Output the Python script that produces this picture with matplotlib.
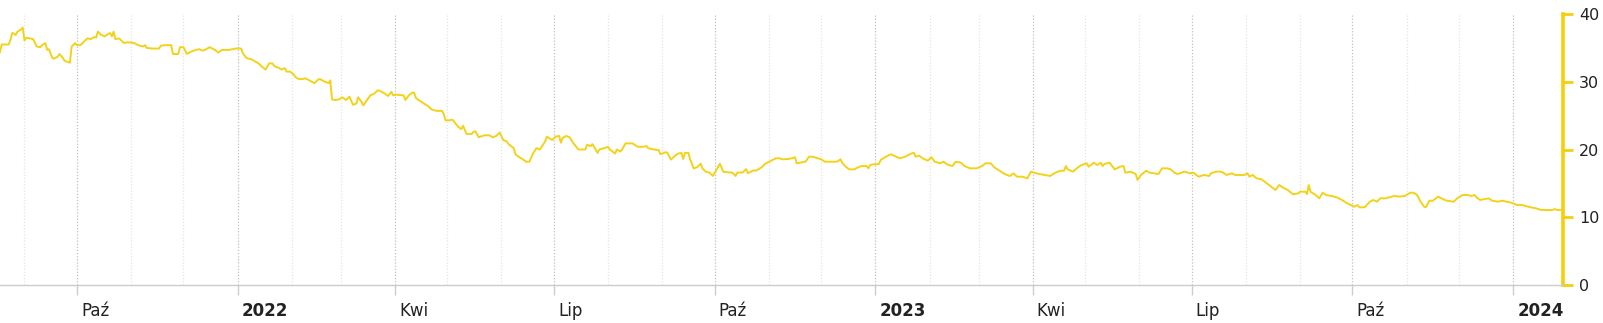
import pandas as pd
import matplotlib
matplotlib.use("Agg")
import matplotlib.pyplot as plt
import matplotlib.dates as mdates
from matplotlib.transforms import ScaledTranslation

# series
dates = [
    "2021-08-18", "2021-08-19", "2021-08-23", "2021-08-24", "2021-08-25", "2021-08-26", "2021-08-27",
    "2021-08-28", "2021-08-30", "2021-08-31",
    "2021-09-01", "2021-09-02", "2021-09-04", "2021-09-06", "2021-09-08", "2021-09-10", "2021-09-11",
    "2021-09-13", "2021-09-14", "2021-09-15", "2021-09-17", "2021-09-18", "2021-09-20", "2021-09-21",
    "2021-09-23", "2021-09-24", "2021-09-27", "2021-09-28", "2021-09-30",
    "2021-10-01", "2021-10-03", "2021-10-05", "2021-10-07", "2021-10-09", "2021-10-11", "2021-10-12",
    "2021-10-13", "2021-10-15", "2021-10-17", "2021-10-18", "2021-10-20", "2021-10-21", "2021-10-22",
    "2021-10-23", "2021-10-25", "2021-10-26", "2021-10-28", "2021-10-29",
    "2021-11-01", "2021-11-03", "2021-11-05", "2021-11-08", "2021-11-09", "2021-11-10", "2021-11-13",
    "2021-11-17", "2021-11-18", "2021-11-20", "2021-11-24", "2021-11-25", "2021-11-28", "2021-11-29",
    "2021-12-01", "2021-12-03", "2021-12-05", "2021-12-08", "2021-12-10", "2021-12-12", "2021-12-14",
    "2021-12-16", "2021-12-19", "2021-12-21", "2021-12-23", "2021-12-27", "2021-12-31",
    "2022-01-03", "2022-01-04", "2022-01-06", "2022-01-09", "2022-01-11", "2022-01-13", "2022-01-15",
    "2022-01-17", "2022-01-19", "2022-01-21", "2022-01-22", "2022-01-25", "2022-01-26", "2022-01-28",
    "2022-01-29", "2022-01-31",
    "2022-02-02", "2022-02-03", "2022-02-05", "2022-02-07", "2022-02-09", "2022-02-11", "2022-02-14",
    "2022-02-16", "2022-02-17", "2022-02-20", "2022-02-22", "2022-02-23", "2022-02-24", "2022-02-26",
    "2022-02-28",
    "2022-03-02", "2022-03-04", "2022-03-06", "2022-03-08", "2022-03-10", "2022-03-11", "2022-03-13",
    "2022-03-14", "2022-03-16", "2022-03-18", "2022-03-20", "2022-03-22", "2022-03-23", "2022-03-26",
    "2022-03-28", "2022-03-30", "2022-03-31",
    "2022-04-02", "2022-04-05", "2022-04-06", "2022-04-07", "2022-04-09", "2022-04-11", "2022-04-12",
    "2022-04-13", "2022-04-14", "2022-04-17", "2022-04-20", "2022-04-22", "2022-04-25", "2022-04-28",
    "2022-04-29", "2022-04-30",
    "2022-05-02", "2022-05-04", "2022-05-07", "2022-05-09", "2022-05-10", "2022-05-12", "2022-05-15",
    "2022-05-16", "2022-05-17", "2022-05-19", "2022-05-21", "2022-05-23", "2022-05-25", "2022-05-27",
    "2022-05-29", "2022-05-31",
    "2022-06-02", "2022-06-04", "2022-06-05", "2022-06-08", "2022-06-09", "2022-06-11", "2022-06-13",
    "2022-06-15", "2022-06-17", "2022-06-19", "2022-06-21", "2022-06-23", "2022-06-26", "2022-06-27",
    "2022-06-30",
    "2022-07-02", "2022-07-04", "2022-07-05", "2022-07-06", "2022-07-08", "2022-07-10", "2022-07-12",
    "2022-07-15", "2022-07-19", "2022-07-20", "2022-07-22", "2022-07-23", "2022-07-24", "2022-07-26",
    "2022-07-27", "2022-07-30",
    "2022-08-01", "2022-08-02", "2022-08-05", "2022-08-06", "2022-08-08", "2022-08-09", "2022-08-11",
    "2022-08-13", "2022-08-15", "2022-08-18", "2022-08-21", "2022-08-23", "2022-08-24", "2022-08-27",
    "2022-08-30", "2022-08-31",
    "2022-09-03", "2022-09-04", "2022-09-06", "2022-09-08", "2022-09-10", "2022-09-12", "2022-09-13",
    "2022-09-14", "2022-09-16", "2022-09-17", "2022-09-19", "2022-09-21", "2022-09-23", "2022-09-24",
    "2022-09-26", "2022-09-28", "2022-09-30",
    "2022-10-02", "2022-10-04", "2022-10-06", "2022-10-10", "2022-10-11", "2022-10-13", "2022-10-14",
    "2022-10-17", "2022-10-19", "2022-10-20", "2022-10-23", "2022-10-25", "2022-10-28", "2022-10-30",
    "2022-11-02", "2022-11-05", "2022-11-07", "2022-11-09", "2022-11-12", "2022-11-14", "2022-11-16",
    "2022-11-17", "2022-11-19", "2022-11-22", "2022-11-24", "2022-11-26", "2022-11-29",
    "2022-12-01", "2022-12-03", "2022-12-07", "2022-12-10", "2022-12-12", "2022-12-13", "2022-12-15",
    "2022-12-17", "2022-12-20", "2022-12-22", "2022-12-24", "2022-12-27", "2022-12-28", "2022-12-29",
    "2022-12-31",
    "2023-01-03", "2023-01-04", "2023-01-07", "2023-01-10", "2023-01-12", "2023-01-15", "2023-01-18",
    "2023-01-21", "2023-01-23", "2023-01-24", "2023-01-26", "2023-01-28", "2023-01-31",
    "2023-02-02", "2023-02-04", "2023-02-07", "2023-02-09", "2023-02-11", "2023-02-14", "2023-02-16",
    "2023-02-19", "2023-02-21", "2023-02-24", "2023-02-28",
    "2023-03-03", "2023-03-05", "2023-03-08", "2023-03-10", "2023-03-13", "2023-03-16", "2023-03-19",
    "2023-03-21", "2023-03-23", "2023-03-26", "2023-03-29", "2023-03-31",
    "2023-04-03", "2023-04-05", "2023-04-08", "2023-04-11", "2023-04-14", "2023-04-17", "2023-04-19",
    "2023-04-20", "2023-04-21", "2023-04-24", "2023-04-27", "2023-04-29",
    "2023-05-02", "2023-05-03", "2023-05-06", "2023-05-08", "2023-05-10", "2023-05-11", "2023-05-12",
    "2023-05-15", "2023-05-16", "2023-05-18", "2023-05-21", "2023-05-23", "2023-05-24", "2023-05-27",
    "2023-05-30", "2023-05-31",
    "2023-06-02", "2023-06-05", "2023-06-07", "2023-06-12", "2023-06-14", "2023-06-17", "2023-06-19",
    "2023-06-21", "2023-06-23", "2023-06-25", "2023-06-27", "2023-06-30",
    "2023-07-02", "2023-07-05", "2023-07-08", "2023-07-11", "2023-07-12", "2023-07-15", "2023-07-18",
    "2023-07-21", "2023-07-24", "2023-07-26", "2023-07-31",
    "2023-08-02", "2023-08-03", "2023-08-05", "2023-08-07", "2023-08-10", "2023-08-13", "2023-08-16",
    "2023-08-18", "2023-08-20", "2023-08-23", "2023-08-25", "2023-08-28", "2023-08-31",
    "2023-09-01", "2023-09-04", "2023-09-05", "2023-09-06", "2023-09-07", "2023-09-10", "2023-09-12",
    "2023-09-14", "2023-09-16", "2023-09-19", "2023-09-22", "2023-09-25", "2023-09-28", "2023-09-30",
    "2023-10-02", "2023-10-04", "2023-10-05", "2023-10-08", "2023-10-11", "2023-10-13", "2023-10-15",
    "2023-10-17", "2023-10-20", "2023-10-22", "2023-10-25", "2023-10-28", "2023-10-31",
    "2023-11-03", "2023-11-05", "2023-11-07", "2023-11-09", "2023-11-11", "2023-11-12", "2023-11-14",
    "2023-11-16", "2023-11-19", "2023-11-22", "2023-11-24", "2023-11-28", "2023-11-30",
    "2023-12-03", "2023-12-06", "2023-12-08", "2023-12-10", "2023-12-11", "2023-12-13", "2023-12-15",
    "2023-12-18", "2023-12-20", "2023-12-23", "2023-12-26", "2023-12-28", "2023-12-31",
    "2024-01-03", "2024-01-06", "2024-01-08", "2024-01-11", "2024-01-14", "2024-01-17", "2024-01-20",
    "2024-01-23", "2024-01-25", "2024-01-26", "2024-01-28",
]
values = [
    34.4, 35.5, 35.5, 36.2, 37.2, 37.1, 36.9,
    37.4, 37.7, 38.0,
    36.1, 36.5, 36.4, 36.3, 35.2, 35.1, 35.4,
    35.7, 34.7, 34.8, 33.5, 33.4, 33.7, 34.1,
    33.5, 33.1, 32.8, 35.2, 35.7,
    35.4, 35.4, 35.9, 36.4, 36.3, 36.6, 36.5,
    37.4, 36.9, 36.7, 36.9, 37.2, 36.7, 37.4,
    36.3, 36.4, 36.2, 35.7, 35.8,
    35.8, 35.7, 35.4, 35.2, 35.4, 35.0, 34.9,
    34.9, 35.3, 35.4, 35.4, 34.1, 34.1, 35.1,
    35.1, 34.1, 34.4, 34.7, 34.8, 34.6, 34.8,
    35.1, 34.7, 34.3, 34.7, 34.7, 34.9,
    34.9, 34.2, 33.5, 33.3, 33.0, 32.7, 32.2,
    31.8, 32.7, 32.7, 32.3, 32.0, 31.8, 32.0,
    31.5, 31.5,
    31.1, 30.7, 30.4, 30.4, 30.5, 30.2, 29.8,
    30.3, 30.4, 30.0, 29.8, 30.2, 27.4, 27.3,
    27.4,
    27.7, 27.3, 27.8, 26.6, 26.8, 27.7, 27.0,
    26.5, 27.3, 28.0, 28.2, 28.7, 28.7, 28.3,
    27.9, 28.5, 28.0,
    28.1, 28.0, 28.0, 27.3, 28.0, 28.4, 28.4,
    27.6, 27.4, 26.9, 26.4, 25.9, 25.7, 25.7,
    25.2, 24.3,
    24.3, 24.4, 23.4, 23.0, 23.5, 22.3, 22.3,
    22.6, 22.7, 21.8, 22.0, 22.1, 22.1, 21.8,
    22.0, 22.5,
    21.4, 21.2, 20.8, 20.2, 19.3, 18.9, 18.6,
    18.2, 18.2, 19.4, 20.2, 20.0, 21.2, 21.9,
    21.4,
    21.9, 22.0, 21.0, 21.7, 22.0, 21.8, 21.0,
    20.0, 20.0, 20.7, 20.5, 20.8, 20.4, 19.5,
    20.0, 20.2,
    20.4, 20.0, 19.4, 20.0, 19.7, 20.0, 20.9,
    20.9, 20.9, 20.4, 20.4, 20.5, 20.2, 20.0,
    19.9, 19.3,
    19.6, 19.5, 18.5, 19.0, 19.4, 19.5, 18.6,
    19.5, 19.5, 18.5, 17.2, 17.4, 17.9, 17.2,
    16.7, 16.6, 16.1,
    17.0, 17.9, 16.7, 16.6, 16.6, 16.1, 16.6,
    16.6, 17.1, 16.5, 16.9, 16.9, 17.4, 17.9,
    18.3, 18.7, 18.7, 18.55, 18.6, 18.7, 18.85,
    17.96, 18.05, 18.2, 18.94, 18.94, 18.7,
    18.55, 18.2, 18.2, 18.2, 18.55, 18.05, 17.46,
    17.07, 17.07, 17.37, 17.56, 17.56, 17.22, 17.71,
    17.81,
    17.86, 18.45, 18.94, 19.29, 19.04, 18.7, 18.94,
    19.34, 19.53, 18.94, 19.1, 18.7, 18.35,
    18.85, 18.2, 17.96, 18.2, 17.8, 17.56, 18.2,
    18.05, 17.56, 17.22, 17.22,
    17.56, 17.96, 17.96, 17.37, 16.87, 16.38, 16.09,
    16.48, 15.99, 15.99, 15.75, 16.73,
    16.48, 16.38, 16.24, 16.09, 16.58, 16.87, 16.87,
    17.56, 17.07, 16.73, 17.37, 17.71,
    17.96, 17.46, 18.05, 17.71, 18.05, 17.56, 17.86,
    18.05, 17.71, 17.07, 17.46, 17.56, 16.58, 16.73,
    16.38, 15.5,
    16.24, 16.87, 16.58, 16.38, 17.22, 17.22, 17.07,
    16.58, 16.38, 16.58, 16.73, 16.48,
    16.58, 15.99, 16.24, 16.09, 16.48, 16.73, 16.73,
    16.24, 16.48, 16.24, 16.24,
    16.48, 15.99, 16.24, 15.75, 15.6, 15.01, 14.42,
    14.02, 14.76, 14.27, 14.02, 13.38, 13.53,
    13.77, 13.77, 13.43, 14.76, 13.77, 13.28, 12.79,
    13.62, 13.28, 13.14, 12.94, 12.55, 12.06, 11.81,
    11.56, 11.81, 11.47, 11.47, 12.3, 12.55, 12.3,
    12.79, 12.79, 12.94, 13.14, 13.04, 13.14,
    13.62, 13.62, 13.28, 12.3, 11.56, 11.47, 12.44,
    12.44, 13.04, 12.65, 12.44, 12.3, 12.79,
    13.28, 13.28, 13.14, 13.28, 12.94, 12.55, 12.65,
    12.79, 12.44, 12.3, 12.44, 12.3, 12.15,
    11.81, 11.81, 11.66, 11.47, 11.32, 11.07, 11.07,
    11.07, 11.2, 11.07, 11.07,
]

tick_dates = ["2021-10-01", "2022-01-01", "2022-04-01", "2022-07-01", "2022-10-01",
              "2023-01-01", "2023-04-01", "2023-07-01", "2023-10-01", "2024-01-01"]
tick_labels = ["Paź", "2022", "Kwi", "Lip", "Paź", "2023", "Kwi", "Lip", "Paź", "2024"]
y_ticks = [0, 10, 20, 30, 40]

YELLOW = "#f3d21a"
AXIS_YELLOW = "#f4cf0a"

fig = plt.figure(figsize=(16.03, 3.23), dpi=100)
ax = fig.add_axes([0, 38 / 323, 1563 / 1603, 271 / 323])

ax.plot(pd.to_datetime(dates), values, color=YELLOW, lw=1.4, zorder=3)

ax.set_xlim(pd.Timestamp("2021-08-18"), pd.Timestamp("2024-01-29 12:00"))
ax.set_ylim(0, 40)

for s in ["top", "left"]:
    ax.spines[s].set_visible(False)
ax.spines["right"].set_color(AXIS_YELLOW)
ax.spines["right"].set_linewidth(2.6)
ax.spines["bottom"].set_color("#cccccc")
ax.spines["bottom"].set_linewidth(1.0)

# y axis on the right
ax.yaxis.tick_right()
ax.set_yticks(y_ticks)
ax.tick_params(axis="y", colors=AXIS_YELLOW, length=7.5, width=2, labelcolor="#222222",
               labelsize=11.5, pad=4)

# x axis: quarterly labelled ticks, monthly faint grid
ax.set_xticks(pd.to_datetime(tick_dates))
ax.set_xticklabels(tick_labels)
ax.xaxis.set_minor_locator(mdates.MonthLocator())
ax.tick_params(axis="x", which="major", length=7, width=1, color="#cccccc",
               labelsize=12, labelcolor="#222222", pad=5)
ax.tick_params(axis="x", which="minor", length=0)
ax.grid(axis="x", which="major", color="#c0c0c0", linestyle=(0, (1, 1.5)), lw=0.9)
ax.grid(axis="x", which="minor", color="#e4e4e4", linestyle=(0, (1, 1.5)), lw=0.9)

offset = ScaledTranslation(4 / 100, 0, fig.dpi_scale_trans)
for lab in ax.get_xticklabels():
    lab.set_horizontalalignment("left")
    lab.set_transform(lab.get_transform() + offset)
    if lab.get_text().isdigit():
        lab.set_fontweight("bold")

fig.savefig("out.png", dpi=100)
